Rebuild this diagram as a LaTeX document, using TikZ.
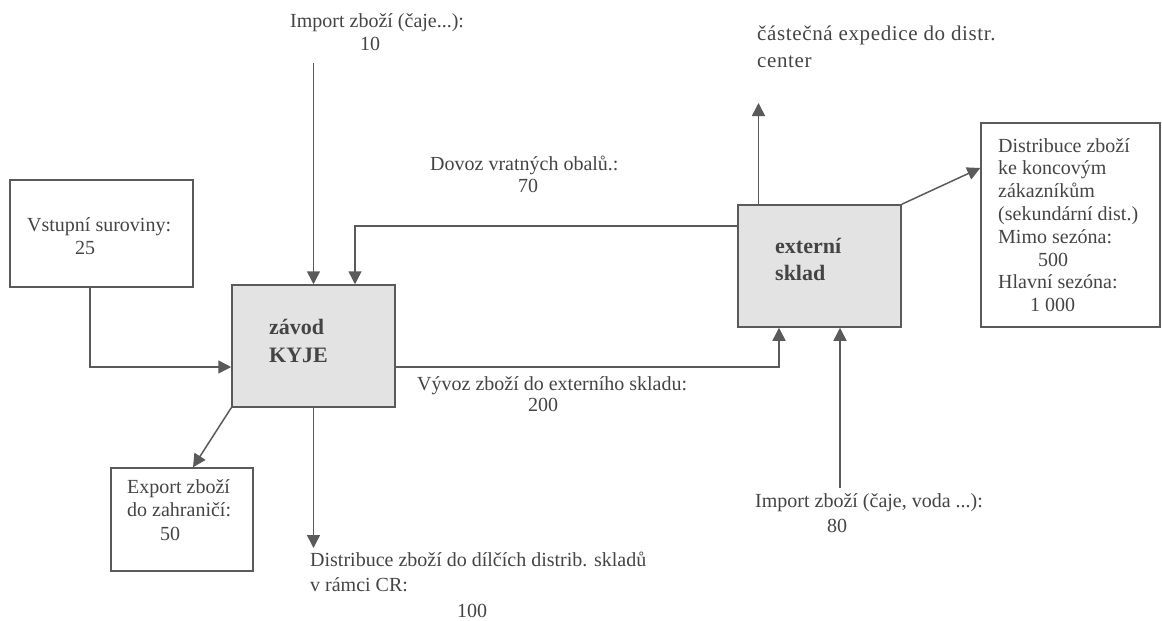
\documentclass[tikz,border=0pt]{standalone}
\usepackage{fontspec}
\setmainfont{Liberation Serif}
\usetikzlibrary{arrows.meta}
\definecolor{ln}{HTML}{5A5A5A}
\definecolor{tx}{HTML}{444444}
\definecolor{bx}{HTML}{E3E3E3}
\begin{document}
\begin{tikzpicture}[x=1pt,y=-1pt,
  box/.style={draw=ln,line width=1.5pt,rectangle,inner sep=0pt,anchor=center},
  hub/.style={box,fill=bx},
  txt/.style={text=tx,inner sep=0pt,font=\fontsize{20}{23}\selectfont,align=left,anchor=base west},
  btxt/.style={txt,font=\fontsize{22}{28}\selectfont\bfseries},
  arr/.style={draw=ln,line width=1.5pt,-{Triangle[width=13pt,length=13pt]}}]
\useasboundingbox (0,0) rectangle (1162,621);

% boxes
\node[box,minimum width=183pt,minimum height=107pt] (vst) at (101.5,233.5) {};
\node[hub,minimum width=163pt,minimum height=122pt] (zavod) at (313.5,346) {};
\node[hub,minimum width=163pt,minimum height=122pt] (ext) at (819.5,266) {};
\node[box,minimum width=179pt,minimum height=204pt] (dist) at (1070.5,225) {};
\node[box,minimum width=142pt,minimum height=103pt] (export) at (182,519.5) {};

% texts (anchor = baseline of the last line)
\node[txt] (vsttxt) at (27,254) {Vstupní suroviny:\\\hspace*{48pt}25};
\node[btxt] (zavodtxt) at (269,362) {závod\\KYJE};
\node[btxt,font=\fontsize{22}{27}\selectfont\bfseries] (exttxt) at (775,280) {externí\\sklad};
\node[txt,font=\fontsize{20}{22.8}\selectfont] (disttxt) at (998,311.6) {Distribuce zboží\\ke koncovým\\zákazníkům\\(sekundární dist.)\\Mimo sezóna:\\\hspace*{40pt}500\\Hlavní sezóna:\\\hspace*{32pt}1 000};
\node[txt] (imptoptxt) at (290,50) {Import zboží (čaje...):\\\hspace*{70pt}10};
\node[txt,font=\fontsize{20}{22}\selectfont] (dovoztxt) at (430,192) {Dovoz vratných obalů.:\\\hspace*{88pt}70};
\node[txt,font=\fontsize{21}{27}\selectfont\addfontfeature{LetterSpace=3}] (exptxt) at (757,67) {částečná expedice do distr.\\center};
\node[txt,font=\fontsize{20}{21}\selectfont] (vyvoztxt) at (417,411) {Vývoz zboží do externího skladu:\\\hspace*{111pt}200};
\node[txt,font=\fontsize{20}{23.5}\selectfont] (exporttxt) at (127,540) {Export zboží\\do zahraničí:\\\hspace*{33pt}50};
\node[txt,font=\fontsize{20}{25.5}\selectfont] (distdowntxt) at (310,617) {Distribuce zboží do dílčích distrib. skladů\\v rámci CR:\\\hspace*{147pt}100};
\node[txt,font=\fontsize{20}{25}\selectfont] (impbottxt) at (755,532) {Import zboží (čaje, voda ...):\\\hspace*{72pt}80};

% free ends
\coordinate (imptop) at (313.5,63);
\coordinate (exptop) at (758.5,103);
\coordinate (impbot) at (840,488);
\coordinate (distdown) at (313.5,548);

% connectors
\draw[arr] ([xshift=-11.5pt]vst.south) |- ([yshift=-21pt]zavod.west);
\draw[arr] (imptop) -- (zavod.north);
\draw[arr] ([yshift=40pt]ext.west) -| ([xshift=41.5pt]zavod.north);
\draw[arr] ([yshift=-21pt]zavod.east) -| ([xshift=-40.5pt]ext.south);
\draw[arr] ([xshift=-61pt]ext.north) -- (exptop);
\draw[arr] (ext.north east) -- ([yshift=57pt]dist.west);
\draw[arr] (impbot) -- ([xshift=20.5pt]ext.south);
\draw[arr] (zavod.south west) -- ([xshift=11pt]export.north);
\draw[arr] (zavod.south) -- (distdown);
\end{tikzpicture}
\end{document}
